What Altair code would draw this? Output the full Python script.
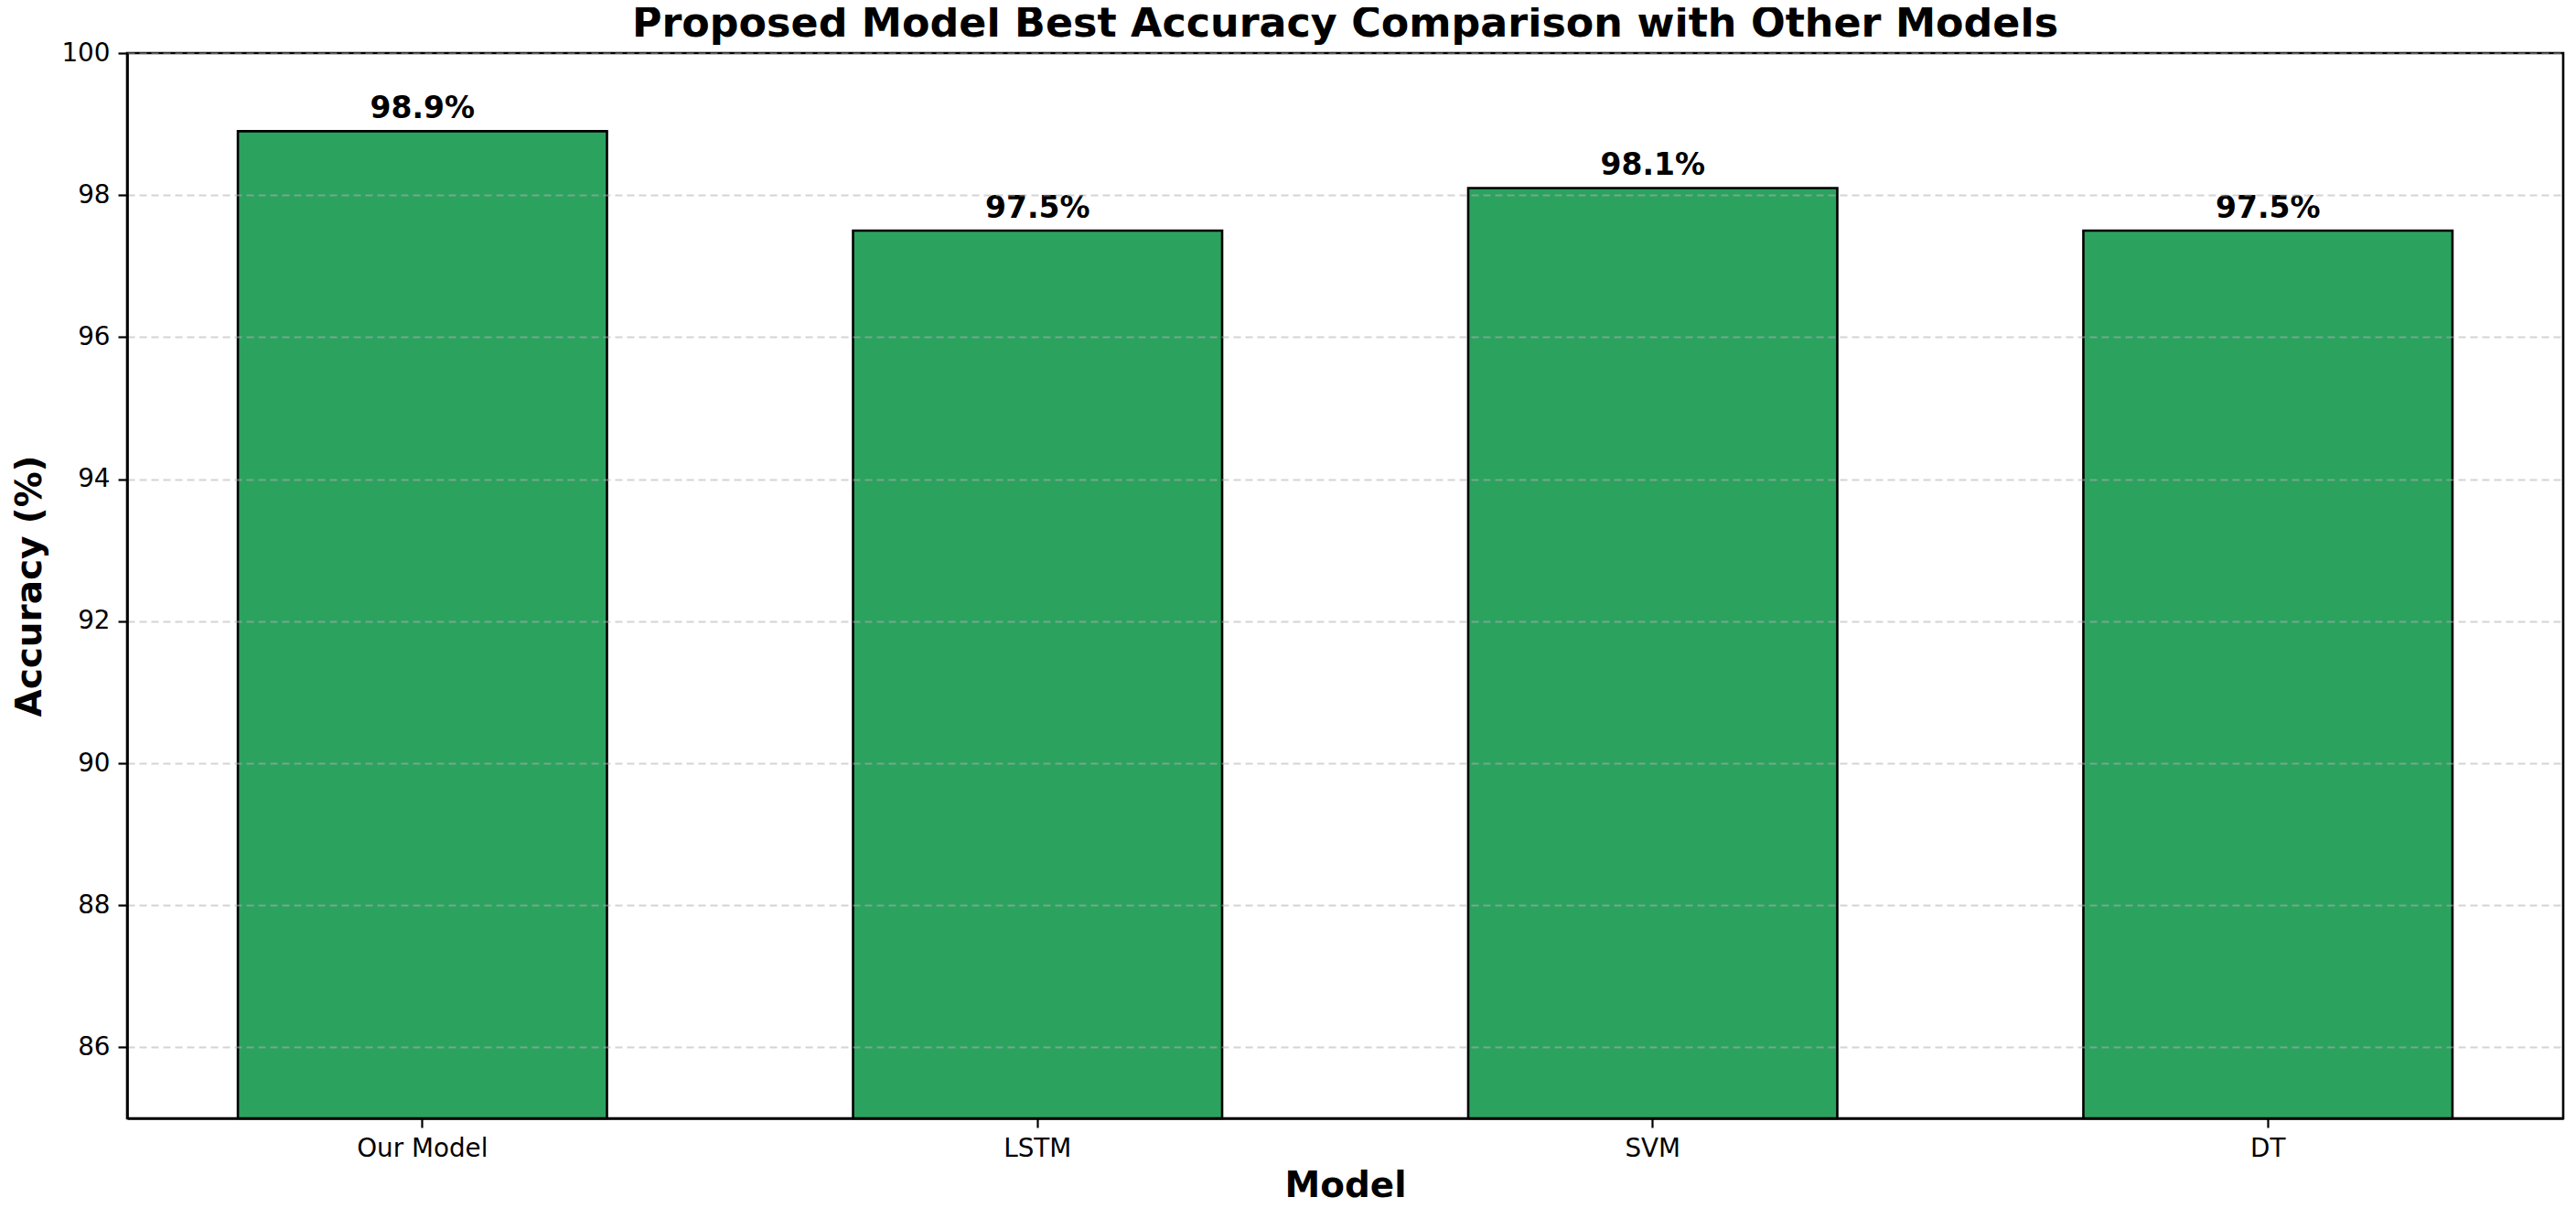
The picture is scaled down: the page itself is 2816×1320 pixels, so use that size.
import altair as alt
import pandas as pd

models = ["Our Model", "LSTM", "SVM", "DT"]
accuracy = [98.9, 97.5, 98.1, 97.5]
y_ticks = [86, 88, 90, 92, 94, 96, 98, 100]

df = pd.DataFrame({"Model": models, "Accuracy": accuracy})

FONT = "DejaVu Sans"
W, H = 2663, 1164

x_enc = alt.X(
    "Model:N",
    sort=models,
    scale=alt.Scale(paddingInner=0.4, paddingOuter=0.18),
    axis=alt.Axis(
        title="Model",
        labelAngle=0,
        labelFont=FONT,
        labelFontSize=27.8,
        labelColor="black",
        labelPadding=9,
        tickSize=10,
        tickWidth=2.2,
        tickColor="black",
        domainColor="black",
        domainWidth=2.6,
        grid=False,
        titleFont=FONT,
        titleFontSize=38.9,
        titleFontWeight="bold",
        titleColor="black",
        titlePadding=8,
    ),
)

y_scale = alt.Scale(domain=[85, 100], nice=False, zero=False)

bars = alt.Chart(df).mark_bar(
    color="#2ca25f", stroke="black", strokeWidth=2.6
).encode(
    x=x_enc,
    y=alt.Y(
        "Accuracy:Q",
        scale=y_scale,
        axis=alt.Axis(
            title="Accuracy (%)",
            values=y_ticks,
            format="d",
            labelFont=FONT,
            labelFontSize=27.8,
            labelColor="black",
            labelPadding=9,
            tickSize=10,
            tickWidth=2.2,
            tickColor="black",
            domainColor="black",
            domainWidth=2.6,
            grid=True,
            gridColor="#b0b0b0",
            gridOpacity=0.55,
            gridDash=[8, 5],
            gridWidth=2,
            zindex=1,
            titleFont=FONT,
            titleFontSize=38.9,
            titleFontWeight="bold",
            titleColor="black",
            titlePadding=14,
        ),
    ),
    y2=alt.datum(85),
)

labels = alt.Chart(df).transform_calculate(
    label="format(datum.Accuracy, '.1f') + '%'"
).mark_text(
    font=FONT, fontSize=33, fontWeight="bold", color="black",
    baseline="alphabetic", align="center", dy=-14
).encode(
    x=alt.X("Model:N", sort=models),
    y=alt.Y("Accuracy:Q", scale=y_scale),
    text="label:N",
)

chart = alt.layer(bars, labels).properties(
    width=W,
    height=H,
    title=alt.TitleParams(
        text="Proposed Model Best Accuracy Comparison with Other Models",
        font=FONT,
        fontSize=44.4,
        fontWeight="bold",
        color="black",
        anchor="middle",
        baseline="alphabetic",
        offset=-40,
    ),
    autosize=alt.AutoSizeParams(type="none"),
    padding={"left": 131, "top": 50, "right": 6, "bottom": 96},
    background="white",
).configure_view(
    stroke="black", strokeWidth=2.6
)

chart.save("out.html", embed_options={"renderer": "svg", "actions": False})
